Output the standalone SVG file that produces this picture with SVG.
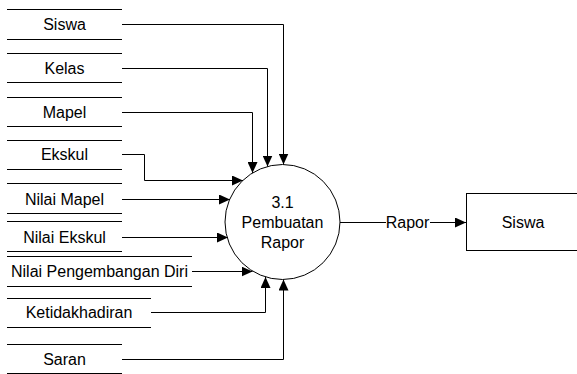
<svg xmlns="http://www.w3.org/2000/svg" width="577" height="374" viewBox="0 0 577 374">
<style>
.ln{stroke:#000;stroke-width:1;fill:none}
.tx{font-family:"Liberation Sans",Arial,sans-serif;font-size:16px;fill:#000;text-anchor:middle}
.cn{stroke:#000;stroke-width:1;fill:none;marker-end:url(#ah)}
</style>
<defs>
<marker id="ah" markerUnits="userSpaceOnUse" markerWidth="11" markerHeight="10" refX="11" refY="5" orient="auto">
<path d="M0,0 L11,5 L0,10 z" fill="#000"/>
</marker>
</defs>
<rect width="577" height="374" fill="#fff"/>
<g id="store-siswa"><path class="ln" d="M7,9.5H122M7,39.5H122"/><text class="tx" x="64.5" y="29.7">Siswa</text></g>
<g id="store-kelas"><path class="ln" d="M7,53.5H122M7,82.5H122"/><text class="tx" x="64.5" y="73.7">Kelas</text></g>
<g id="store-mapel"><path class="ln" d="M7,97.5H122M7,126.5H122"/><text class="tx" x="64.5" y="117.7">Mapel</text></g>
<g id="store-ekskul"><path class="ln" d="M7,140.5H122M7,169.5H122"/><text class="tx" x="64.5" y="159.7">Ekskul</text></g>
<g id="store-nilai-mapel"><path class="ln" d="M7,183.5H122M7,213.5H122"/><text class="tx" x="64.5" y="204.7">Nilai Mapel</text></g>
<g id="store-nilai-ekskul"><path class="ln" d="M7,221.5H122M7,251.5H122"/><text class="tx" x="64.5" y="242.7">Nilai Ekskul</text></g>
<g id="store-npd"><path class="ln" d="M7,256.5H192M7,286.5H192"/><text class="tx" x="99.5" y="276.7">Nilai Pengembangan Diri</text></g>
<g id="store-ketidakhadiran"><path class="ln" d="M7,298.5H151M7,327.5H151"/><text class="tx" x="79" y="317.7">Ketidakhadiran</text></g>
<g id="store-saran"><path class="ln" d="M7,344.5H122M7,373.5H122"/><text class="tx" x="64.5" y="364.7">Saran</text></g>
<g id="process"><circle class="ln" cx="282.5" cy="222" r="57.5"/><text class="tx" x="282.5" y="208">3.1</text><text class="tx" x="282.5" y="228">Pembuatan</text><text class="tx" x="282.5" y="248">Rapor</text></g>
<g id="entity-siswa"><rect class="ln" x="466.5" y="193.5" width="114" height="57"/><text class="tx" x="523" y="227.7">Siswa</text></g>
<g id="connectors">
<path class="cn" d="M122,24.5H283.5V164.5"/>
<path class="cn" d="M122,68.5H267.5V166.5"/>
<path class="cn" d="M122,112.5H252.5V173"/>
<path class="cn" d="M122,154.5H144.5V180.5H243"/>
<path class="cn" d="M122,199.5H230"/>
<path class="cn" d="M122,237.5H228"/>
<path class="cn" d="M192,271.5H252.5"/>
<path class="cn" d="M151,312.5H265.5V277"/>
<path class="cn" d="M122,359.5H283.5V279.5"/>
<path class="cn" d="M340,222.5H466"/>
<rect x="386" y="212" width="44" height="20" fill="#fff"/>
<text class="tx" x="407.5" y="227.7">Rapor</text>
</g>
</svg>
